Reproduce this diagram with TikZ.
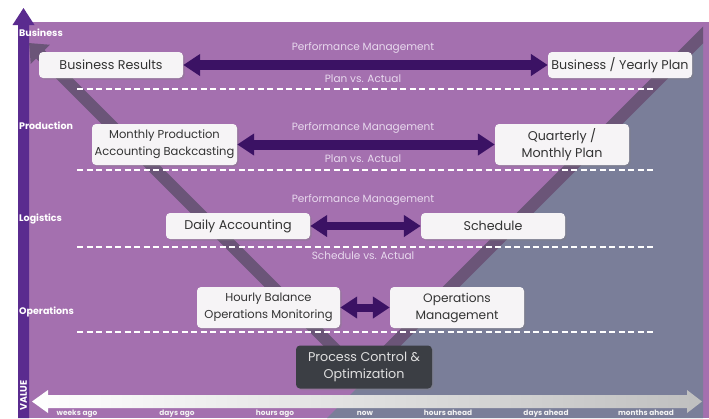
\documentclass[tikz,border=0pt]{standalone}
\usepackage{fontspec}
\setmainfont{Poppins}
\usetikzlibrary{arrows.meta,shadows}
\definecolor{bgpurple}{HTML}{A470AF}
\definecolor{greyblue}{HTML}{7A7E99}
\definecolor{bandc}{HTML}{6B5578}
\definecolor{axispurple}{HTML}{5A2B8F}
\definecolor{arrowpurple}{HTML}{3B1264}
\definecolor{boxfill}{HTML}{F6F4F6}
\definecolor{boxtext}{HTML}{333333}
\definecolor{darkbox}{HTML}{3B3E44}
\definecolor{labeltext}{HTML}{E8D9EE}
\begin{document}
\begin{tikzpicture}[x=1pt,y=-1pt,
  box/.style={fill=boxfill, rounded corners=4pt, text=boxtext,
    font=\fontsize{12.7}{17}\selectfont, align=center, inner sep=0pt,
    drop shadow={opacity=0.35, shadow xshift=1.5pt, shadow yshift=-1.5pt}},
  smallbox/.style={box, font=\fontsize{11.5}{17}\selectfont},
  darkboxstyle/.style={box, fill=darkbox, text=white!88!black},
  biarrow/.style={line width=10pt, draw=arrowpurple,
    {Triangle[length=17pt,width=21pt]}-{Triangle[length=17pt,width=21pt]}},
  armband/.style={line width=12pt, draw=bandc},
  midlabel/.style={text=labeltext, font=\fontsize{10.5}{12}\selectfont, inner sep=0pt},
  rowlabel/.style={text=white, font=\bfseries\fontsize{9.5}{11}\selectfont, anchor=west, inner sep=0pt},
  ticklabel/.style={text=white!95!black, font=\bfseries\fontsize{7.4}{9}\selectfont, anchor=base, inner sep=0pt},
  dashline/.style={draw=white, line width=1.1pt, dash pattern=on 6pt off 3.5pt}]
\useasboundingbox (0,0) rectangle (709,418);
% background
\fill[bgpurple] (29,22) rectangle (709,418);
\begin{scope}
  \clip (29,22) rectangle (703,418);
  \fill[greyblue] (710,35) -- (327,418) -- (710,418) -- cycle;
  \coordinate (vtx) at (362,376);
  \coordinate (rtop) at (725,13);
  \coordinate (ltop) at (29,43);
  \draw[armband] (vtx) -- (rtop);
  \draw[armband, -{Triangle[length=16pt,width=26pt]}] (vtx) -- (ltop);
\end{scope}
% dashed separators
\foreach \yy in {89,170,247,332} \draw[dashline] (77,\yy) -- (653,\yy);
% vertical axis
\fill[axispurple] (18,418) -- (18,25) -- (12.5,25) -- (23.5,8) -- (34.5,25) -- (29,25) -- (29,418) -- cycle;
\node[text=white, font=\bfseries\fontsize{9.5}{11}\selectfont, rotate=90, anchor=east, inner sep=0pt] (value) at (23.5,380) {VALUE};
% horizontal axis
\shade[left color=white, right color=black!25] (32,401.5) -- (48,390) -- (48,395) -- (687,395) -- (687,390) -- (702,401.5) -- (687,413) -- (687,408) -- (48,408) -- (48,413) -- cycle;
\node[ticklabel] (t1) at (77,415.5) {weeks ago};
\node[ticklabel] (t2) at (177,415.5) {days ago};
\node[ticklabel] (t3) at (275,415.5) {hours ago};
\node[ticklabel] (t4) at (365,415.5) {now};
\node[ticklabel] (t5) at (448,415.5) {hours ahead};
\node[ticklabel] (t6) at (546,415.5) {days ahead};
\node[ticklabel] (t7) at (646,415.5) {months ahead};
% row labels
\node[rowlabel] (r1) at (19,33) {Business};
\node[rowlabel] (r2) at (19,126) {Production};
\node[rowlabel] (r3) at (19,219) {Logistics};
\node[rowlabel] (r4) at (19,312) {Operations};
% boxes
\node[box, minimum width=144pt, minimum height=26pt] (b1) at (111,65) {Business Results};
\node[box, minimum width=144pt, minimum height=26pt] (b2) at (620,65) {Business / Yearly Plan};
\node[smallbox, minimum width=145pt, minimum height=41pt] (b3) at (164.5,144.5) {Monthly Production\\Accounting Backcasting};
\node[box, minimum width=134pt, minimum height=41pt] (b4) at (562,144.5) {Quarterly /\\Monthly Plan};
\node[box, minimum width=144pt, minimum height=26pt] (b5) at (238,226) {Daily Accounting};
\node[box, minimum width=144pt, minimum height=26pt] (b6) at (493,226) {Schedule};
\node[smallbox, minimum width=143pt, minimum height=41pt] (b7) at (268.5,307.5) {Hourly Balance\\Operations Monitoring};
\node[box, font=\fontsize{12.2}{17}\selectfont, minimum width=134pt, minimum height=41pt] (b8) at (457,307.5) {Operations\\Management};
\node[darkboxstyle, minimum width=136pt, minimum height=43pt] (b9) at (364,367) {Process Control \&\\Optimization};
% arrows
\draw[biarrow] (b1.east) -- (b2.west);
\draw[biarrow] (b3.east) -- (b4.west);
\draw[biarrow, line width=8pt] (b5.east) -- (b6.west);
\draw[biarrow, line width=8pt] (b7.east) -- (b8.west);
% mid labels
\node[midlabel] (m1) at (363,48) {Performance Management};
\node[midlabel] (m2) at (363,79) {Plan vs. Actual};
\node[midlabel] (m3) at (363,128) {Performance Management};
\node[midlabel] (m4) at (363,159) {Plan vs. Actual};
\node[midlabel] (m5) at (363,200) {Performance Management};
\node[midlabel] (m6) at (363,256) {Schedule vs. Actual};
\end{tikzpicture}
\end{document}
